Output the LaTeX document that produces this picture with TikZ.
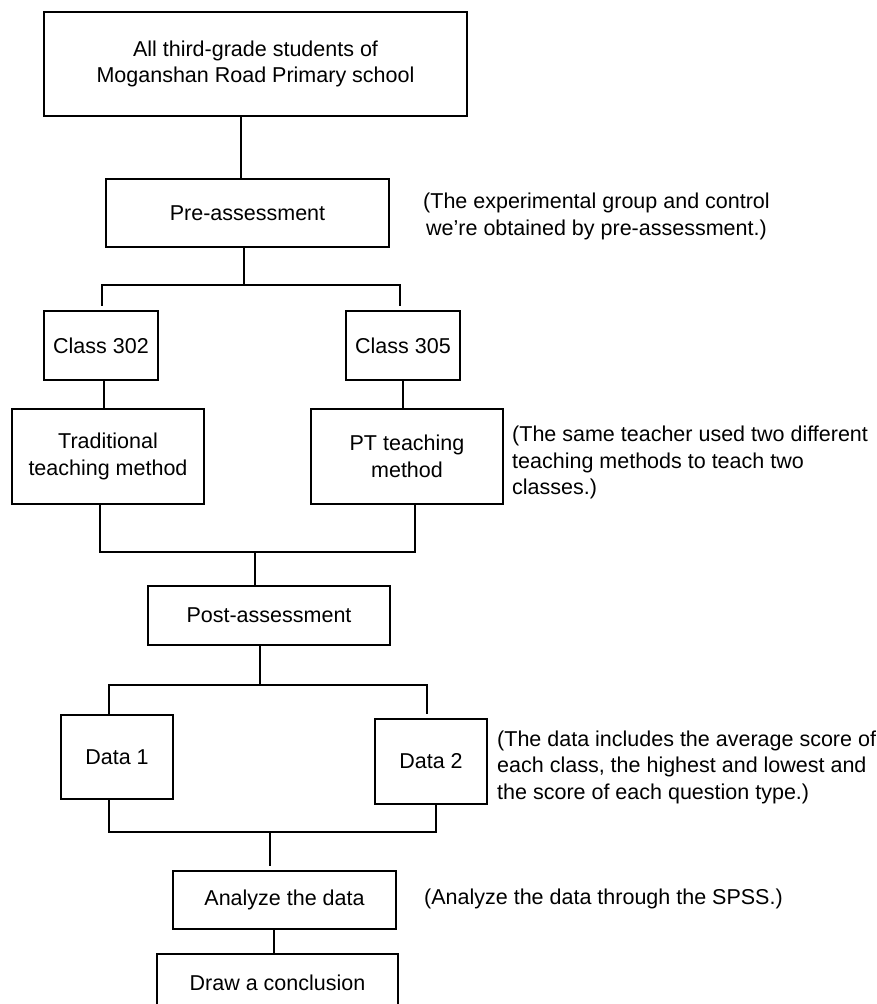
\documentclass[tikz,border=0pt]{standalone}
\usepackage{fontspec}
\setmainfont{Liberation Sans}
\begin{document}
\begin{tikzpicture}[x=1pt,y=-1pt,
  box/.style={draw, line width=2.2pt, inner sep=0pt, align=center, font=\fontsize{21.5}{26.5}\selectfont},
  note/.style={inner sep=0pt, align=left, anchor=west, font=\fontsize{21.5}{26.5}\selectfont},
  conn/.style={line width=1.8pt}]
\clip (0,0) rectangle (877,1004);
\fill[white] (0,0) rectangle (877,1004);

% boxes
\node[box, minimum width=423pt, minimum height=104pt] (top) at (255.5,64) {All third-grade students of\\Moganshan Road Primary school};
\node[box, minimum width=283pt, minimum height=68pt] (pre) at (247.5,213) {Pre-assessment};
\node[box, minimum width=114pt, minimum height=69pt] (c302) at (101,345.5) {Class 302};
\node[box, minimum width=114pt, minimum height=69pt] (c305) at (403,345.5) {Class 305};
\node[box, minimum width=192pt, minimum height=95pt] (trad) at (108,456.5) {Traditional\\teaching method};
\node[box, minimum width=192pt, minimum height=95pt] (pt) at (407,456.5) {PT teaching\\method};
\node[box, minimum width=242pt, minimum height=59pt] (post) at (269,615.5) {Post-assessment};
\node[box, minimum width=112pt, minimum height=84pt] (d1) at (117,757) {Data 1};
\node[box, minimum width=112pt, minimum height=85pt] (d2) at (431,761.5) {Data 2};
\node[box, minimum width=223pt, minimum height=58pt] (ana) at (284.5,900) {Analyze the data};
\node[box, minimum width=241pt, minimum height=58pt] (concl) at (277.5,983) {Draw a conclusion};

% notes
\node[note] (n1) at (423,216.5) {(The experimental group and control\\\hspace*{3pt}we{\char"27}re obtained by pre-assessment.)};
\node[note] (n2) at (512,462.5) {(The same teacher used two different\\teaching methods to teach two\\classes.)};
\node[note] (n3) at (497,767) {(The data includes the average score of\\each class, the highest and lowest and\\the score of each question type.)};
\node[note] (n4) at (424,899) {(Analyze the data through the SPSS.)};

% junctions
\coordinate (j1) at (244,285);
\coordinate (j2) at (255,552);
\coordinate (j3) at (260,685);
\coordinate (j4) at (270,832);

% connectors
\draw[conn] ([xshift=-14.5pt]top.south) -- ([xshift=-6.5pt]pre.north);
\draw[conn] ([xshift=-3.5pt]pre.south) -- (j1);
\draw[conn, shorten <=4pt, shorten >=4pt] ([xshift=1pt]c302.north) |- (j1) -| ([xshift=-3pt]c305.north);
\draw[conn] ([xshift=3pt]c302.south) -- ([xshift=3pt]c302.south |- trad.north);
\draw[conn] (c305.south) -- (c305.south |- pt.north);
\draw[conn] ([xshift=-8pt]trad.south) |- (j2) -| ([xshift=8pt]pt.south);
\draw[conn] (j2) -- (j2 |- post.north);
\draw[conn] ([xshift=-9pt]post.south) -- (j3);
\draw[conn, shorten >=4pt] ([xshift=-8pt]d1.north) |- (j3) -| ([xshift=-4pt]d2.north);
\draw[conn] ([xshift=-8pt]d1.south) |- (j4) -| ([xshift=5pt]d2.south);
\draw[conn, shorten >=4pt] (j4) -- (j4 |- ana.north);
\draw[conn] ([xshift=-10.5pt]ana.south) -- ([xshift=-10.5pt]ana.south |- concl.north);
\end{tikzpicture}
\end{document}
